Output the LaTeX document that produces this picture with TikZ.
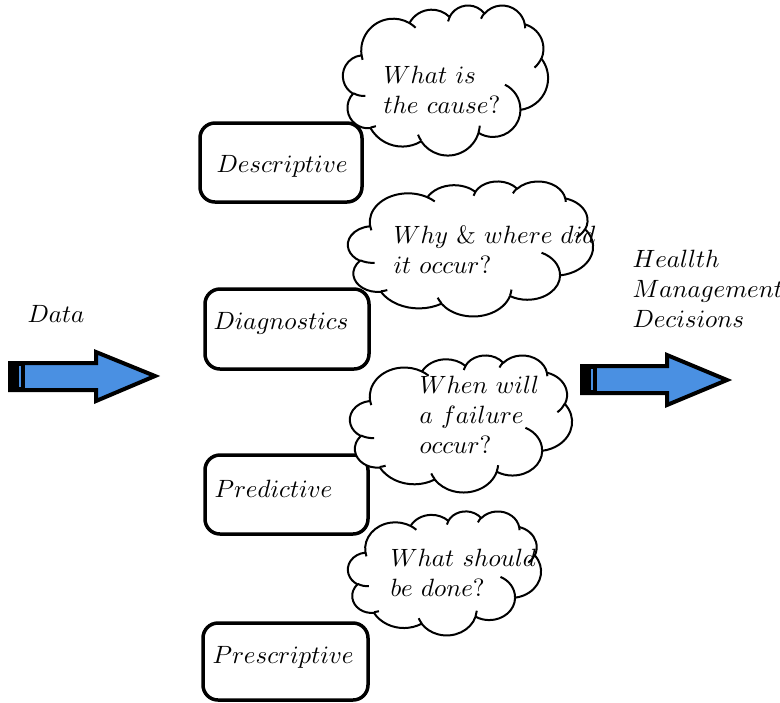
\documentclass[tikz,border=0pt]{standalone}
\usetikzlibrary{shapes.symbols}
\definecolor{arrowblue}{RGB}{74,144,226}
\def\pxu{0.4pt}
\tikzset{
  stagebox/.style={draw, line width=1.4pt, rounded corners=6pt, inner sep=0pt},
  cloudline/.style={line width=0.8pt, line join=round},
  words/.style={anchor=base west, inner sep=0pt, align=left},
  bigarrow/.style={draw, line width=1.6pt, fill=arrowblue, line join=miter},
  % elliptical arc given by x/y radii and start/sweep angles measured as
  % visual (polar) angles, converted to parametric angles for TikZ
  ooarc/.style n args={4}{
    start angle={atan2(#1*sin(#3),#2*cos(#3))},
    delta angle={mod(atan2(#1*sin(#3+#4),#2*cos(#3+#4))-atan2(#1*sin(#3),#2*cos(#3))+720,360)},
    x radius=#1, y radius=#2},
}
% thought cloud in a 432 x 432 grid, placed by left, top, width, height (px)
\newcommand\thoughtcloud[5]{%
  \pgfmathsetmacro\cloudsx{#4*0.4/432}%
  \pgfmathsetmacro\cloudsy{#5*0.4/432}%
  \begin{scope}[shift={(#2,#3)}, x=\cloudsx pt, y=-\cloudsy pt]
    \coordinate (#1) at (216,216);
    \draw[cloudline, fill=white] (39.00,143.70)
      arc[ooarc={67.53}{91.90}{-190.4875}{123.7805}]
      arc[ooarc={53.33}{72.67}{-144.1024}{89.9452}]
      arc[ooarc={43.65}{59.45}{-145.8079}{99.7230}]
      arc[ooarc={48.57}{65.95}{-130.9861}{117.2417}]
      arc[ooarc={53.33}{72.73}{-78.7089}{109.0269}]
      arc[ooarc={67.75}{92.20}{-46.2673}{130.2690}]
      arc[ooarc={57.85}{78.67}{0.6250}{114.0333}]
      arc[ooarc={67.52}{92.15}{22.4516}{115.1726}]
      arc[ooarc={77.20}{105.43}{66.2426}{75.7110}]
      arc[ooarc={43.60}{59.18}{-274.9421}{146.7356}]
      arc[ooarc={43.45}{59.45}{-246.8285}{152.5189}]
      -- cycle;
    \draw[cloudline]
      (46.93,261.77) arc[ooarc={43.45}{59.45}{86.7420}{26.4295}]
      (69.28,348.99) arc[ooarc={43.60}{59.18}{73.6105}{11.4475}]
      (164.78,390.90) arc[ooarc={67.52}{92.15}{137.6242}{14.0811}]
      (288.27,347.51) arc[ooarc={67.52}{92.15}{6.4533}{15.9984}]
      (341.29,229.54) arc[ooarc={57.85}{78.67}{-70.2924}{70.9174}]
      (417.98,153.54) arc[ooarc={53.33}{72.73}{30.3180}{27.7515}]
      (383.24,54.26) arc[ooarc={48.57}{65.95}{-13.7443}{14.8589}]
      (290.78,39.52) arc[ooarc={48.57}{65.95}{-149.1815}{18.1954}]
      (221.41,47.20) arc[ooarc={43.65}{59.45}{-163.4943}{17.6864}]
      (140.00,51.92) arc[ooarc={67.53}{91.90}{-66.7070}{12.3194}]
      (41.27,157.89) arc[ooarc={67.53}{91.90}{157.6544}{11.8582}];
  \end{scope}}
\begin{document}
\begin{tikzpicture}[x=0.4pt, y=-0.4pt]
\useasboundingbox (0,0) rectangle (780,702);

% input and output arrows
\draw[bigarrow] (10,363) -- (96,363) -- (96,352) -- (155,376) -- (96,401)
  -- (96,390) -- (10,390) -- cycle;
\fill (10,363) rectangle (25,390);
\draw[arrowblue, line width=0.6pt] (20,366) -- (20,387);
\draw[bigarrow] (582,366) -- (667,366) -- (667,355) -- (727,380) -- (667,405)
  -- (667,393) -- (582,393) -- cycle;
\fill (582,366) rectangle (597,393);
\draw[arrowblue, line width=0.6pt] (592,369) -- (592,390);

\node[words] (data) at (27,322) {$Data$};
\node[words, anchor=north west] (decide) at (632,250)
  {$Heallth$\\ $Management$\\ $Decisions$};

% analytics stages
\node[stagebox, minimum width=162*\pxu, minimum height=79*\pxu] (desc) at (281,162.5) {};
\node[stagebox, minimum width=164*\pxu, minimum height=80*\pxu] (diag) at (287,329) {};
\node[stagebox, minimum width=163*\pxu, minimum height=79*\pxu] (pred) at (286.5,494.5) {};
\node[stagebox, minimum width=165*\pxu, minimum height=77*\pxu] (pres) at (285.5,661.5) {};

\node[words] (descT) at (216,172) {$Descriptive$};
\node[words] (diagT) at (213,329) {$Diagnostics$};
\node[words] (predT) at (214,497) {$Predictive$};
\node[words] (presT) at (212,663) {$Prescriptive$};

% questions
\thoughtcloud{q1}{343}{5}{205}{150}
\thoughtcloud{q2}{348}{181}{245}{135}
\thoughtcloud{q3}{350}{355}{222}{137}
\thoughtcloud{q4}{348}{511}{193}{124}

\node[words, anchor=north west] (q1T) at (383,66) {$What\ is$\\ $the\ cause?$};
\node[words, anchor=north west] (q2T) at (393,226) {$Why\ \&\ where\ did$\\ $it\ occur?$};
\node[words, anchor=north west] (q3T) at (419,376) {$When\ will$\\ $a\ failure$\\ $occur?$};
\node[words, anchor=north west] (q4T) at (390,549) {$What\ should$\\ $be\ done?$};
\end{tikzpicture}
\end{document}
